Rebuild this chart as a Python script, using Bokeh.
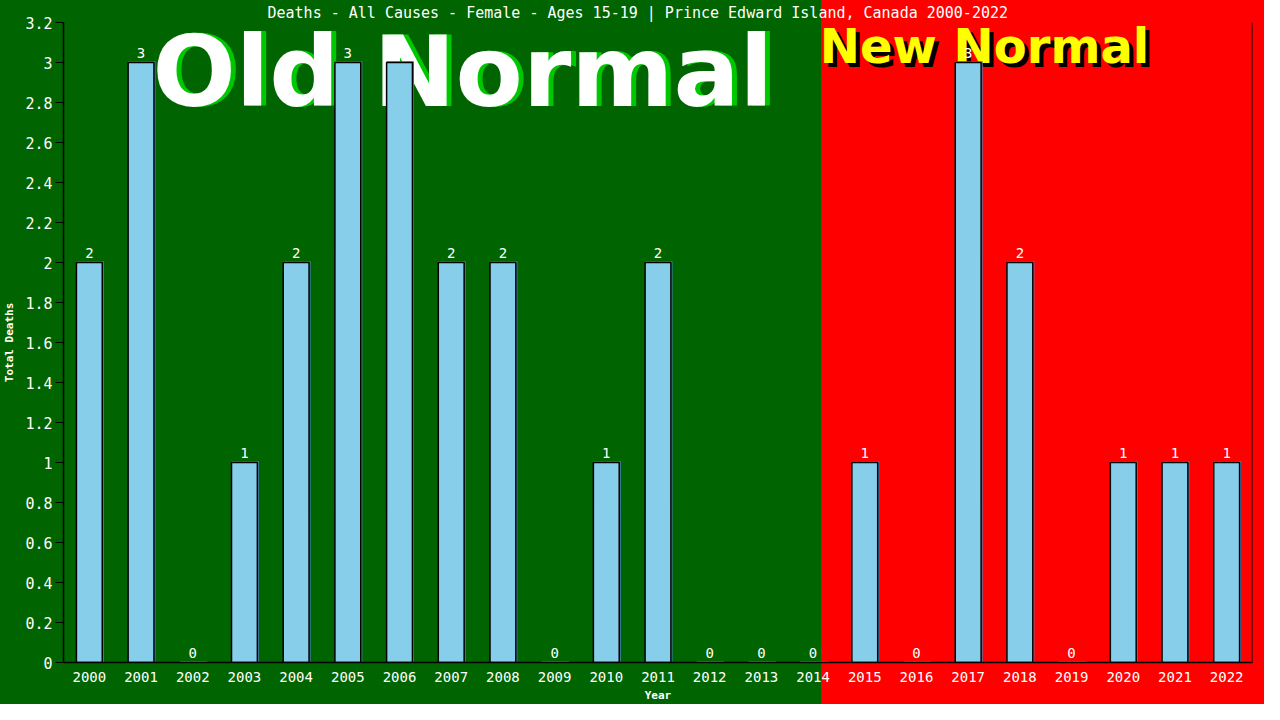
from bokeh.plotting import figure
from bokeh.models import (ColumnDataSource, FactorRange, Range1d, FixedTicker,
                          CustomJSTickFormatter, Label, Span)
from bokeh.transform import dodge
from bokeh.core.properties import value
from bokeh.embed import file_html
from bokeh.resources import INLINE

# ---- data ----
years = ["2000", "2001", "2002", "2003", "2004", "2005", "2006", "2007",
         "2008", "2009", "2010", "2011", "2012", "2013", "2014", "2015",
         "2016", "2017", "2018", "2019", "2020", "2021", "2022"]
deaths = [2, 3, 0, 1, 2, 3, 3, 2, 2, 0, 1, 2, 0, 0, 0, 1, 0, 3, 2, 0, 1, 1, 1]
y_ticks = [0, 0.2, 0.4, 0.6, 0.8, 1, 1.2, 1.4, 1.6, 1.8, 2, 2.2, 2.4, 2.6,
           2.8, 3, 3.2]
title_text = ("Deaths - All Causes - Female - Ages 15-19 | "
              "Prince Edward Island, Canada 2000-2022")

# ---- layout constants ----
W, H = 1264, 704
BL, BR, BT, BB = 58, 12, 22, 41
frame_w = W - BL - BR
unit = frame_w / len(years)
split_synth = 14.69           # where the red "new normal" area begins
split_px = BL + split_synth * unit

GREEN = "#006400"
RED = "#ff0000"
MONO = "DejaVu Sans Mono"

src = ColumnDataSource(dict(
    year=years,
    deaths=deaths,
    shadow_top=[d + 0.006 for d in deaths],
    line_col=["black" if d > 0 else None for d in deaths],
    label=[str(d) for d in deaths],
))

p = figure(width=W, height=H, output_backend="svg", toolbar_location=None,
           x_range=FactorRange(*years, range_padding=0),
           y_range=Range1d(0, 3.2),
           min_border_left=BL, min_border_right=BR,
           min_border_top=BT, min_border_bottom=BB)
p.border_fill_color = None
p.background_fill_color = None
p.outline_line_color = None
p.styles = {"background": f"linear-gradient(to right, {GREEN} {split_px:.1f}px, "
                          f"{RED} {split_px:.1f}px)"}

# title (roughly centred on the whole canvas)
p.title.text = title_text
p.title.align = "left"
p.title.text_color = "white"
p.title.text_font = MONO
p.title.text_font_size = "15px"
p.title.text_font_style = "normal"
p.title.offset = 204
p.title.standoff = 2

# axes
p.xgrid.visible = False
p.ygrid.visible = False
for ax in (p.xaxis[0], p.yaxis[0]):
    ax.axis_line_color = "black"
    ax.axis_line_width = 1.5
    ax.major_label_text_color = "white"
    ax.major_label_text_font = MONO
    ax.axis_label_text_color = "white"
    ax.axis_label_text_font = MONO
    ax.axis_label_text_font_style = "bold"
    ax.axis_label_text_font_size = "11px"
    ax.minor_tick_line_color = None

p.xaxis.axis_label = "Year"
p.xaxis.major_tick_line_color = None
p.xaxis.major_label_text_font_size = "14px"
p.xaxis.major_label_standoff = 3
p.xaxis.axis_label_standoff = 4

p.yaxis.axis_label = "Total Deaths"
p.yaxis.ticker = FixedTicker(ticks=y_ticks)
p.yaxis.formatter = CustomJSTickFormatter(
    code="return String(Number(tick.toFixed(1)));")
p.yaxis.major_tick_line_color = "black"
p.yaxis.major_tick_out = 8
p.yaxis.major_tick_in = 0
p.yaxis.major_label_text_font_size = "15px"
p.yaxis.major_label_standoff = 3
p.yaxis.axis_label_standoff = 6

# background headline texts (drawn below bars)
old_x, old_y = 1.72, 2.783
new_x, new_y = split_synth - 0.06, 2.99
for dx, dy, col in ((5, 0, "#00c800"), (0, 0, "white")):
    p.add_layout(Label(x=old_x, y=old_y, x_offset=dx, y_offset=34 + dy,
                       text="Old Normal", text_color=col,
                       text_font="DejaVu Sans", text_font_style="bold",
                       text_font_size="98px", text_baseline="alphabetic",
                       level="underlay"))
for dx, dy, col in ((4, -4, "black"), (0, 0, "#ffff00")):
    p.add_layout(Label(x=new_x, y=new_y, x_offset=dx, y_offset=19 + dy,
                       text="New Normal", text_color=col,
                       text_font="DejaVu Sans", text_font_style="bold",
                       text_font_size="48px", text_baseline="alphabetic",
                       level="underlay"))

# bars: shadow then main
p.vbar(x=dodge("year", 0.015, range=p.x_range), top="shadow_top", bottom=0,
       width=0.53, source=src, fill_color="#4682b4", line_color=None)
p.vbar(x="year", top="deaths", bottom=0, width=0.5, source=src,
       fill_color="#87ceeb", line_color="line_col", line_width=1.5)

# value labels
p.text(x="year", y="deaths", text="label", source=src,
       text_color="white", text_font=value(MONO), text_font_size="14px",
       text_align="center", text_baseline="bottom", y_offset=-5)

# right frame line
p.add_layout(Span(location=len(years), dimension="height",
                  line_color="black", line_width=1.5))

open("out.html", "w").write(file_html(p, INLINE))
